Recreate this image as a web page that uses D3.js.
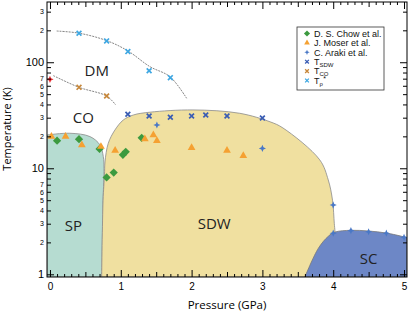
<!DOCTYPE html>
<html>
<head>
<meta charset="utf-8">
<script src="https://cdn.jsdelivr.net/npm/d3@7"></script>
<style>
  body { margin: 0; background: #fff; }
  text { font-family: "Liberation Sans", Arial, sans-serif; }
</style>
</head>
<body>
<svg id="phase-chart" width="409" height="313"></svg>
<script>
// axis extents (data units)
const pRange = [-0.042, 5.042];
const tRange = [0.943, 370];

// measured points [pressure GPa, temperature K]
const chow = [[0.1, 18.2], [0.41, 18.8], [0.7, 15.2], [0.8, 8.2], [0.9, 9.1], [1.03, 13.4], [1.07, 14.3], [1.295, 19.4]];
const moser = [[0.02, 19.9], [0.22, 19.9], [0.45, 16.6], [0.72, 16], [0.92, 14.7], [1.34, 18.9], [1.46, 20.6], [1.51, 18.2], [2.0, 15.6], [2.5, 14.7], [2.73, 13.1]];
const araki = [[1.51, 25.6], [3.0, 15.4], [4.0, 4.5], [4.0, 2.44], [4.25, 2.58], [4.5, 2.52], [4.75, 2.44], [5.0, 2.23]];
const tSDW = [[1.1, 32.3], [1.4, 31.1], [1.7, 30.3], [2.0, 31.1], [2.2, 31.8], [2.5, 31.1], [3.0, 29.8]];
const tCO = [[0.41, 58], [0.8, 48]];
const tRho = [[0.41, 188], [0.8, 159], [1.1, 126], [1.4, 83], [1.7, 71.6]];
const tAmbient = [[0, 69]];

// phase boundaries
const spEdge = [[pRange[0], 20.6], [0.28, 21.4], [0.565, 19.9], [0.706, 16.6], [0.753, 12.9], [0.763, 10], [0.75, 5], [0.73, tRange[0]]];
const sdwEdge = [[0.73, tRange[0]], [0.75, 5], [0.77, 8.65], [0.777, 11.5], [0.823, 17.2], [0.918, 23], [1.035, 28.5], [1.177, 31.8], [1.412, 33.8], [2.02, 35.5], [2.68, 33], [3.11, 27.4], [3.29, 24], [3.81, 12], [3.93, 7.76], [3.99, 5.0], [4.015, 3.03], [4.025, 2.5], [4.03, tRange[0]]];
const scEdge = [[3.6, tRange[0]], [3.79, 1.76], [3.93, 2.28], [4.025, 2.5], [4.25, 2.6], [4.5, 2.56], [4.75, 2.45], [4.99, 2.26], [pRange[1], 2.2]];
const guideRho = [[0.095, 197], [0.41, 188], [0.8, 160], [1.1, 128], [1.41, 91], [1.695, 73], [1.93, 45.7]];
const guideCO = [[0.047, 74.8], [0.41, 58], [0.8, 48], [0.928, 39.6]];

const phaseLabels = [["DM", 0.66, 84], ["CO", 0.47, 30], ["SP", 0.33, 2.9], ["SDW", 2.32, 3.0], ["SC", 4.5, 1.4]];
const legendItems = ["D. S. Chow et al.", "J. Moser et al.", "C. Araki et al.", "SDW", "CO", "ρ"];

const svg = d3.select("#phase-chart");
const margin = { left: 47, right: 2, top: 2, bottom: 36 };
const W = +svg.attr("width"), H = +svg.attr("height");

const x = d3.scaleLinear().domain(pRange).range([margin.left, W - margin.right]);
const y = d3.scaleLog().domain(tRange).range([H - margin.bottom, margin.top]);

svg.append("defs").append("clipPath").attr("id", "plot-clip")
  .append("rect")
  .attr("x", x.range()[0]).attr("y", y.range()[1])
  .attr("width", x.range()[1] - x.range()[0])
  .attr("height", y.range()[0] - y.range()[1]);

const plot = svg.append("g").attr("clip-path", "url(#plot-clip)");

const smooth = d3.line().x((d) => x(d[0])).y((d) => y(d[1])).curve(d3.curveCatmullRom.alpha(0.5));
const region = (edge, corners) =>
  smooth(edge) + corners.map((c) => `L${x(c[0])},${y(c[1])}`).join("") + "Z";

plot.append("path").attr("d", region(spEdge, [[pRange[0], tRange[0]]]))
  .attr("fill", "#b6dcd1").attr("stroke", "#8a8a8a").attr("stroke-width", 0.8);
plot.append("path").attr("d", region(sdwEdge, []))
  .attr("fill", "#f0e0a0").attr("stroke", "#8a8a8a").attr("stroke-width", 0.8);
plot.append("path").attr("d", region(scEdge, [[pRange[1], tRange[0]]]))
  .attr("fill", "#6d87c6").attr("stroke", "#7a7a7a").attr("stroke-width", 0.8);

[guideRho, guideCO].forEach((g) => {
  plot.append("path").attr("d", smooth(g))
    .attr("fill", "none").attr("stroke", "#666")
    .attr("stroke-width", 0.8).attr("stroke-dasharray", "2,1");
});

// phase names
plot.selectAll(null).data(phaseLabels).enter().append("text")
  .attr("x", (d) => x(d[1])).attr("y", (d) => y(d[2]))
  .attr("text-anchor", "middle").attr("dy", "0.35em")
  .style("font-family", "'Open Sans', sans-serif").style("font-size", "15px")
  .attr("fill", "#222").text((d) => d[0]);

// marker shapes
const starPath = (r) => { const i = r * 0.3; return `M0,${-r}L${i},${-i}L${r},0L${i},${i}L0,${r}L${-i},${i}L${-r},0L${-i},${-i}Z`; };
const crossPath = (r) => `M${-r},${-r}L${r},${r}M${-r},${r}L${r},${-r}`;
const diamond = d3.symbol().type(d3.symbolSquare);
const triangle = d3.symbol().type(d3.symbolTriangle);

const markers = [
  { data: chow, d: (s) => diamond.size(s * 34)(), rot: 45, fill: "#3c9a3f", cross: false },
  { data: moser, d: (s) => triangle.size(s * 26)(), rot: 0, fill: "#f5a132", cross: false },
  { data: araki, d: (s) => starPath(3.6 * Math.sqrt(s)), rot: 0, fill: "#4a78c6", cross: false },
  { data: tSDW, d: (s) => crossPath(2.4 * Math.sqrt(s)), rot: 0, fill: "#3a5db4", cross: true },
  { data: tCO, d: (s) => crossPath(2.4 * Math.sqrt(s)), rot: 0, fill: "#c7883c", cross: true },
  { data: tRho, d: (s) => crossPath(2.4 * Math.sqrt(s)), rot: 0, fill: "#3ea7e2", cross: true }
];

const drawMarker = (sel, m, scale) => {
  sel.attr("d", m.d(scale))
    .attr("fill", m.cross ? "none" : m.fill)
    .attr("stroke", m.cross ? m.fill : "none")
    .attr("stroke-width", m.cross ? 1.7 * Math.sqrt(scale) : 0);
};

const order = [3, 4, 5, 2, 0, 1];
order.forEach((k) => {
  const m = markers[k];
  plot.selectAll(null).data(m.data).enter().append("path")
    .attr("transform", (d) => `translate(${x(d[0])},${y(d[1])}) rotate(${m.rot})`)
    .call(drawMarker, m, 1);
});

plot.selectAll(null).data(tAmbient).enter().append("path")
  .attr("transform", (d) => `translate(${x(d[0])},${y(d[1])})`)
  .attr("d", starPath(3.6)).attr("fill", "#e8262b");

// axes
const isMajorT = (v) => [1, 10, 100].includes(v);
const mant = (v) => Math.round(v / Math.pow(10, Math.floor(Math.log10(v) + 1e-9)));
const yTicks = [];
[1, 10, 100].forEach((b) => d3.range(1, 10).forEach((m) => { if (b * m <= tRange[1]) yTicks.push(b * m); }));
const xTicks = d3.range(51).map((i) => i / 10);
const isInt = (v) => Math.abs(v - Math.round(v)) < 1e-6;
const isHalf = (v) => Math.abs(v * 2 - Math.round(v * 2)) < 1e-6;

const yLeft = svg.append("g").attr("transform", `translate(${x.range()[0]},0)`)
  .call(d3.axisLeft(y).tickValues(yTicks).tickSizeInner(-4).tickSizeOuter(0).tickPadding(3)
    .tickFormat((v) => isMajorT(v) ? String(v) : (mant(v) <= 7 ? String(mant(v)) : "")));
yLeft.selectAll(".tick line").attr("x2", (d) => isMajorT(d) ? 7 : 4);
yLeft.selectAll(".tick text").style("font-size", (d) => isMajorT(d) ? "11px" : "7px");

const yRight = svg.append("g").attr("transform", `translate(${x.range()[1]},0)`)
  .call(d3.axisRight(y).tickValues(yTicks).tickSizeInner(-4).tickSizeOuter(0).tickFormat(""));
yRight.selectAll(".tick line").attr("x2", (d) => isMajorT(d) ? -7 : -4);

const xTickLen = (v) => isInt(v) ? 7 : (isHalf(v) ? 5 : 3);
const xBottom = svg.append("g").attr("transform", `translate(0,${y.range()[0]})`)
  .call(d3.axisBottom(x).tickValues(xTicks).tickSizeInner(-3).tickSizeOuter(0).tickPadding(6)
    .tickFormat((v) => isInt(v) ? String(Math.round(v)) : ""));
xBottom.selectAll(".tick line").attr("y2", (d) => -xTickLen(d));
xBottom.selectAll(".tick text").style("font-size", "10px");

const xTop = svg.append("g").attr("transform", `translate(0,${y.range()[1]})`)
  .call(d3.axisTop(x).tickValues(xTicks).tickSizeInner(-3).tickSizeOuter(0).tickFormat(""));
xTop.selectAll(".tick line").attr("y2", (d) => xTickLen(d));

svg.selectAll(".domain").remove();
svg.selectAll(".tick text").attr("fill", "#000").style("font-family", "'Liberation Sans', Arial, sans-serif");

svg.append("rect")
  .attr("x", x.range()[0]).attr("y", y.range()[1])
  .attr("width", x.range()[1] - x.range()[0])
  .attr("height", y.range()[0] - y.range()[1])
  .attr("fill", "none").attr("stroke", "#000").attr("stroke-width", 1);

// axis titles
svg.append("text")
  .attr("x", 227).attr("y", 309).attr("text-anchor", "middle")
  .style("font-family", "'Open Sans', sans-serif").style("font-size", "11.5px")
  .text("Pressure (GPa)");
svg.append("text")
  .attr("transform", "translate(11,129) rotate(-90)").attr("text-anchor", "middle")
  .style("font-family", "'Open Sans', sans-serif").style("font-size", "11px")
  .text("Temperature (K)");

// legend
const legend = svg.append("g").attr("transform", "translate(297,27)");
legend.append("rect").attr("width", 87).attr("height", 63)
  .attr("fill", "#fff").attr("stroke", "#333").attr("stroke-width", 0.8);

legendItems.forEach((label, i) => {
  const ly = 6.5 + i * 9.4;
  const m = markers[i];
  legend.append("path")
    .attr("transform", `translate(10,${ly}) rotate(${m.rot})`)
    .call(drawMarker, m, i < 3 ? 0.55 : 0.6);
  const t = legend.append("text").attr("x", 17).attr("y", ly + 3.2)
    .style("font-size", "9px").attr("fill", "#111");
  if (i < 3) {
    t.text(label);
  } else {
    t.append("tspan").text("T");
    t.append("tspan").attr("dy", 1.8).style("font-size", "6px").text(label);
    if (i === 5) t.append("tspan").attr("dy", -4.5).attr("dx", 0.3).style("font-size", "7px").text("*");
  }
});
</script>
</body>
</html>
